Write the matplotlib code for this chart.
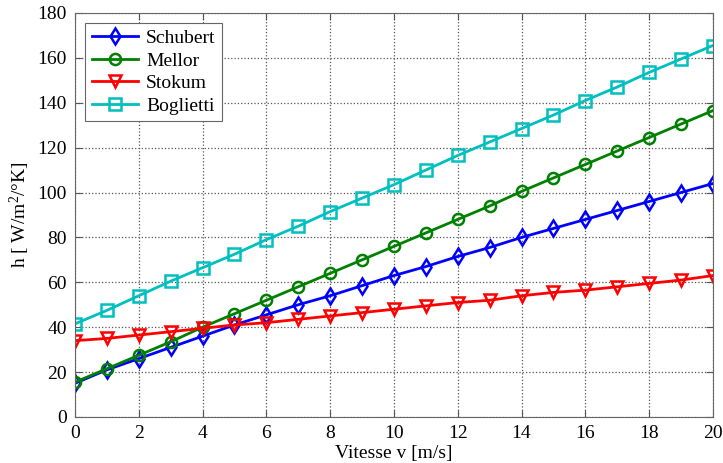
import matplotlib
matplotlib.use("Agg")
import matplotlib.pyplot as plt
import numpy as np

v = list(range(0, 21))
schubert = [15, 21, 26, 31, 36, 41, 45.5, 50, 54, 58.5, 63, 67, 71.5, 75.5, 80, 84, 88, 92, 96, 100, 104]
mellor = [15.5, 21.5, 27.5, 33.5, 40, 46, 52, 58, 64, 70, 76, 82, 88, 94, 100.5, 106.5, 112.5, 118.5, 124.5, 130.5, 136.5]
stokum = [34, 35, 36.5, 38, 39.5, 41, 42, 43.5, 45, 46.5, 48, 49.5, 51, 52, 54, 55.5, 56.5, 58, 59.5, 61, 63]
boglietti = [41.5, 47.5, 54, 60.5, 66.5, 72.5, 79, 85, 91.5, 97.5, 103.5, 110, 116.5, 122.5, 128.5, 134.5, 141, 147, 153.5, 159.5, 165.5]
xticks = list(range(0, 21, 2))
yticks = list(range(0, 181, 20))

plt.rcParams['font.family'] = ['Liberation Serif', 'DejaVu Serif']
plt.rcParams['mathtext.fontset'] = 'custom'
plt.rcParams['mathtext.rm'] = 'Liberation Serif'
plt.rcParams['mathtext.it'] = 'Liberation Serif:italic'
plt.rcParams['mathtext.default'] = 'rm'
fig = plt.figure(figsize=(7.23, 4.63), dpi=100)
ax = fig.add_axes([0.1037, 0.0994, 0.8823, 0.8726])

kw = dict(linewidth=2, markersize=8, markerfacecolor='none', markeredgewidth=1.8)
ax.plot(v, schubert, color='#0000ff', marker='d', label='Schubert', **kw)
ax.plot(v, mellor, color='#008000', marker='o', label='Mellor', **kw)
ax.plot(v, stokum, color='#ff0000', marker='v', label='Stokum', **kw)
ax.plot(v, boglietti, color='#00bfbf', marker='s', label='Boglietti', **kw)

ax.set_xlim(0, 20)
ax.set_ylim(0, 180)
ax.set_xticks(xticks)
ax.set_yticks(yticks)
ax.tick_params(direction='in', labelsize=14, length=5, pad=6, color='#555555', top=True, right=True)
ax.grid(True, linestyle=':', color='#555555', linewidth=0.9)
for s in ax.spines.values():
    s.set_color('#666666')
ax.set_xlabel('Vitesse v [m/s]', fontsize=14, labelpad=2)
ax.set_ylabel('h [ W/m$^2$/°K]', fontsize=14, labelpad=4)

leg = ax.legend(loc='upper left', fontsize=14, fancybox=False, framealpha=1,
                edgecolor='#666666', handlelength=2.4, borderaxespad=0.5,
                labelspacing=0.25, handletextpad=0.4, borderpad=0.35)
leg.get_frame().set_linewidth(0.8)

fig.savefig('out.png', dpi=100)
